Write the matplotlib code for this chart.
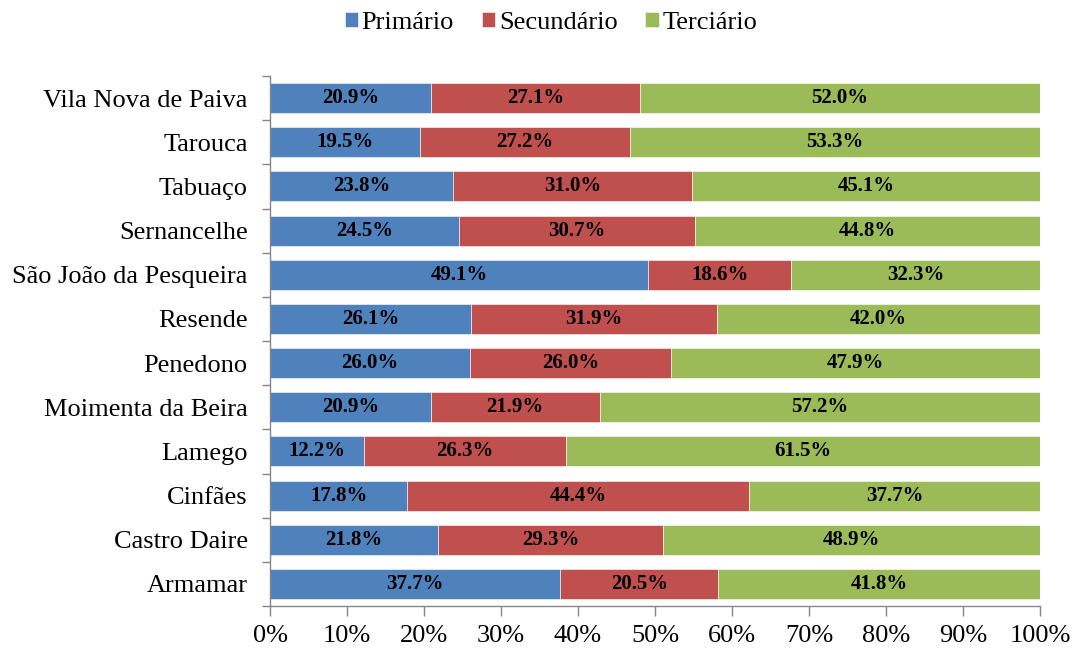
import matplotlib.pyplot as plt
import numpy as np
from matplotlib.ticker import FixedLocator, PercentFormatter

plt.rcParams['font.family'] = ['Liberation Serif', 'DejaVu Serif']

municipios = ["Armamar", "Castro Daire", "Cinfães", "Lamego", "Moimenta da Beira",
              "Penedono", "Resende", "São João da Pesqueira", "Sernancelhe",
              "Tabuaço", "Tarouca", "Vila Nova de Paiva"]
primario = [37.7, 21.8, 17.8, 12.2, 20.9, 26.0, 26.1, 49.1, 24.5, 23.8, 19.5, 20.9]
secundario = [20.5, 29.3, 44.4, 26.3, 21.9, 26.0, 31.9, 18.6, 30.7, 31.0, 27.2, 27.1]
terciario = [41.8, 48.9, 37.7, 61.5, 57.2, 47.9, 42.0, 32.3, 44.8, 45.1, 53.3, 52.0]

series = [("Primário", primario, "#4F81BD"),
          ("Secundário", secundario, "#C0504D"),
          ("Terciário", terciario, "#9BBB59")]

fig = plt.figure(figsize=(10.72, 6.48), dpi=100)
ax = fig.add_axes([270 / 1072, 1 - 606 / 648, 770 / 1072, 530 / 648])

y = np.arange(len(municipios))
raw = np.array([primario, secundario, terciario])
totals = raw.sum(axis=0)
left = np.zeros(len(municipios))
for name, vals, color in series:
    vals = np.array(vals)
    share = vals / totals * 100
    ax.barh(y, share, left=left, height=0.68, color=color, label=name,
            edgecolor="white", linewidth=0.4)
    for yi, (l, s, v) in enumerate(zip(left, share, vals)):
        ax.text(l + s / 2, yi, f"{v:.1f}%", ha="center", va="center",
                fontsize=15, fontweight="bold", color="black")
    left += share

ax.set_xlim(0, 100)
ax.set_ylim(-0.5, len(municipios) - 0.5)
ax.xaxis.set_major_locator(FixedLocator(np.arange(0, 101, 10)))
ax.xaxis.set_major_formatter(PercentFormatter(decimals=0))
ax.set_yticks(y)
ax.set_yticklabels(municipios)
ax.yaxis.set_minor_locator(FixedLocator(np.arange(-0.5, len(municipios), 1)))
ax.tick_params(axis="y", which="major", length=0, pad=16, labelsize=19)
ax.tick_params(axis="y", which="minor", length=6, color="#868686", width=1)
ax.tick_params(axis="x", which="major", length=7, color="#868686", width=1,
               labelsize=19, pad=7)

for side in ("top", "right"):
    ax.spines[side].set_visible(False)
for side in ("left", "bottom"):
    ax.spines[side].set_color("#868686")
    ax.spines[side].set_linewidth(1)

fig.legend(loc="center", bbox_to_anchor=(551 / 1072, 1 - 23 / 648), ncol=3,
           frameon=False, fontsize=19, handlelength=0.5, handleheight=0.5,
           handletextpad=0.15, columnspacing=1.05)

fig.savefig("out.png", dpi=100)
